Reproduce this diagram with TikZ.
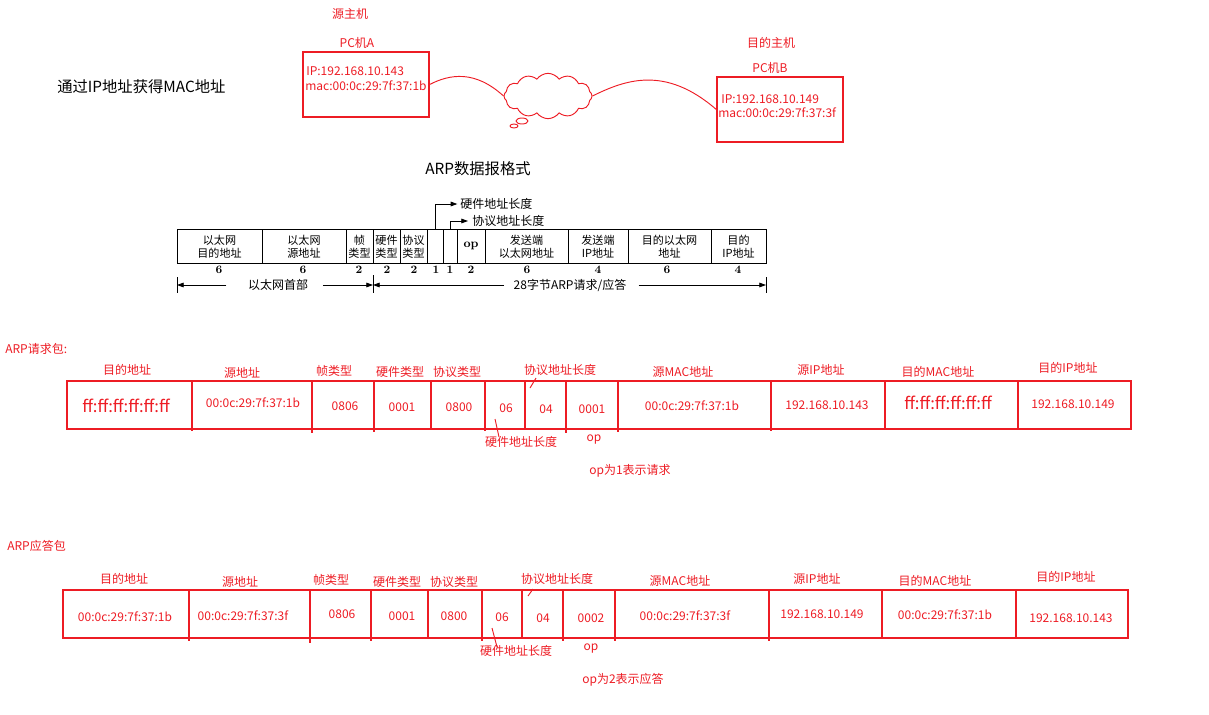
\documentclass[tikz,border=0pt]{standalone}
\usepackage{fontspec}
\usepackage{tikz}
\usetikzlibrary{positioning,arrows.meta,shapes.symbols}

\newfontfamily\cjk{Noto Sans CJK SC}
\definecolor{pen}{RGB}{237,28,36}

\tikzset{
  redlbl/.style={text=pen, font=\cjk\fontsize{9}{10}\selectfont, inner sep=0pt},
  bigval/.style={text=pen, font=\cjk\fontsize{12.5}{14}\selectfont, inner sep=0pt},
  redline/.style={draw=pen, line width=1pt},
  thinred/.style={draw=pen, line width=0.7pt},
  hostbox/.style={draw=pen, line width=1pt, minimum width=94.5pt, minimum height=48.75pt, inner sep=0pt},
  bookcell/.style={font=\cjk\fontsize{8.3}{9.6}\selectfont, align=center, inner sep=0pt},
  booknum/.style={font=\bfseries\fontsize{8.5}{9}\selectfont, inner sep=0pt},
  booklbl/.style={font=\cjk\fontsize{9}{10}\selectfont, inner sep=0pt},
  bookline/.style={draw, line width=0.6pt},
  bookarrow/.style={-{Triangle[length=5pt,width=3.5pt]}, line width=0.6pt},
  title/.style={font=\cjk\fontsize{11.5}{13}\selectfont, inner sep=0pt},
}

\begin{document}
\begin{tikzpicture}[x=0.75pt, y=-0.75pt]

\useasboundingbox (0,0) rectangle (1209,714);

% hosts and network
\node[title, anchor=west] (topic) at (57,87) {通过IP地址获得MAC地址};
\node[redlbl] (srcHost) at (350,14) {源主机};
\node[redlbl] (pcAname) at (357,43) {PC机A};
\node[redlbl] (dstHost) at (771,43) {目的主机};
\node[redlbl] (pcBname) at (770,68) {PC机B};

\node[hostbox] (pcA) at (366,84.5) {};
\node[hostbox] (pcB) at (780,109.5) {};
\node[redlbl, anchor=west] (ipA) at (306,71) {IP:192.168.10.143};
\node[redlbl, anchor=west] (macA) at (305,86) {mac:00:0c:29:7f:37:1b};
\node[redlbl, anchor=west] (ipB) at (721,99) {IP:192.168.10.149};
\node[redlbl, anchor=west] (macB) at (718,113) {mac:00:0c:29:7f:37:3f};

\node[cloud, cloud puffs=12, cloud puff arc=110, aspect=2, draw=pen, line width=0.7pt,
      minimum width=66pt, minimum height=34pt, inner sep=0pt] (net) at (548,96) {};
\path[thinred] (522,121) ellipse (6 and 3);
\path[thinred] (514,126) ellipse (4 and 2);

\draw[thinred] (pcA.east) .. controls (450,74) and (475,70) .. (net.west);
\draw[thinred] (net.east) .. controls (625,80) and (665,65) .. (pcB.west);

% ARP frame format (book figure)
\node[title] (fmt) at (478,169) {ARP数据报格式};

\path[bookline] (177,229) rectangle (766,263);
\foreach \x in {262,346,373,400,427,443,457,485,568,628,711}
    \path[bookline] (\x,229) -- (\x,263);

\foreach \c/\t [count=\i] in {219.5/{以太网\\目的地址}, 304/{以太网\\源地址}, 359.5/{帧\\类型},
        386.5/{硬件\\类型}, 413.5/{协议\\类型}, 526.5/{发送端\\以太网地址},
        598/{发送端\\IP地址}, 669.5/{目的以太网\\地址}, 738.5/{目的\\IP地址}}
    \node[bookcell] (cell\i) at (\c,246.5) {\t};
\node[booknum, font=\bfseries\fontsize{9}{9}\selectfont] (opcell) at (471,246) {op};

\foreach \c/\n [count=\i] in {219/6,303/6,359/2,387/2,414/2,436/1,450/1,471/2,527/6,598/4,667/6,738/4}
    \node[booknum] (len\i) at (\c,270) {\n};

\coordinate (hwTop) at (435,229);
\coordinate (prTop) at (450,229);
\node[booklbl, anchor=west] (hwLen) at (460,204) {硬件地址长度};
\node[booklbl, anchor=west] (prLen) at (472,221) {协议地址长度};
\draw[bookarrow] (hwTop) |- ([xshift=-2pt]hwLen.west);
\draw[bookarrow] (prTop) |- ([xshift=-3pt]prLen.west);

\coordinate (hdrL) at (177,285);
\coordinate (hdrR) at (373,285);
\coordinate (arpR) at (766,285);
\path[bookline] (177,277) -- (177,293);
\path[bookline] (373,275) -- (373,293);
\path[bookline] (766,277) -- (766,293);
\node[booklbl] (ethHdr) at (278,285) {以太网首部};
\node[booklbl] (arpBody) at (570,285) {28字节ARP请求/应答};
\draw[bookarrow] ([xshift=-16pt]ethHdr.west) -- (hdrL);
\draw[bookarrow] ([xshift=11pt]ethHdr.east) -- (hdrR);
\draw[bookarrow] ([xshift=-7pt]arpBody.west) -- (hdrR);
\draw[bookarrow] ([xshift=9pt]arpBody.east) -- (arpR);

% ARP request
\node[redlbl, anchor=west] (reqName) at (5,349) {ARP请求包:};
\path[redline] (67,381) rectangle (1131,429);
\foreach \x/\b in {192/431,312/433,374/432,431/429,485/431,525/429,566/433,618/432,771/431,885/429,1018/429}
    \path[redline] (\x,381) -- (\x,\b);

\foreach \x/\y/\t [count=\i] in {127/370/目的地址, 242/373/源地址, 334/371/帧类型, 400/372/硬件类型,
        457/372/协议类型, 560/370/协议地址长度, 683/372/源MAC地址, 821/370/源IP地址,
        938/372/目的MAC地址, 1068/368/目的IP地址}
    \node[redlbl] (reqf\i) at (\x,\y) {\t};
\foreach \x/\y/\t [count=\i] in {253/403/00:0c:29:7f:37:1b, 345/406/0806, 402/407/0001, 459/407/0800,
        506/408/06, 546/409/04, 592/409/0001, 692/406/00:0c:29:7f:37:1b, 827/405/192.168.10.143,
        1073/404/192.168.10.149}
    \node[redlbl] (reqv\i) at (\x,\y) {\t};
\node[bigval] (reqDst) at (126,406) {ff:ff:ff:ff:ff:ff};
\node[bigval] (reqTgt) at (948,403) {ff:ff:ff:ff:ff:ff};

\node[redlbl] (reqHw) at (521,442) {硬件地址长度};
\node[redlbl] (reqOp) at (594,440) {op};
\node[redlbl] (reqNote) at (630,471) {op为1表示请求};
\coordinate (reqPa) at (536,378);
\coordinate (reqPb) at (530,388);
\coordinate (reqHa) at (495,419);
\coordinate (reqHb) at (499,437);
\draw[thinred] (reqPa) -- (reqPb);
\draw[thinred] (reqHa) -- (reqHb);

% ARP reply
\node[redlbl, anchor=west] (repName) at (7,546) {ARP应答包};
\path[redline] (63,590) rectangle (1128,638);
\foreach \x/\b in {189/641,310/643,371/641,428/638,482/641,522/638,563/641,615/641,769/641,882/638,1016/638}
    \path[redline] (\x,590) -- (\x,\b);

\foreach \x/\y/\t [count=\i] in {124/579/目的地址, 240/582/源地址, 331/580/帧类型, 397/582/硬件类型,
        454/582/协议类型, 557/579/协议地址长度, 680/581/源MAC地址, 817/579/源IP地址,
        935/581/目的MAC地址, 1066/577/目的IP地址}
    \node[redlbl] (repf\i) at (\x,\y) {\t};
\foreach \x/\y/\t [count=\i] in {125/617/00:0c:29:7f:37:1b, 243/616/00:0c:29:7f:37:3f, 342/614/0806,
        402/616/0001, 454/616/0800, 502/617/06, 543/618/04, 591/618/0002,
        685/616/00:0c:29:7f:37:3f, 822/614/192.168.10.149, 945/615/00:0c:29:7f:37:1b,
        1071/618/192.168.10.143}
    \node[redlbl] (repv\i) at (\x,\y) {\t};

\node[redlbl] (repHw) at (516,651) {硬件地址长度};
\node[redlbl] (repOp) at (591,649) {op};
\node[redlbl] (repNote) at (623,680) {op为2表示应答};
\coordinate (repPa) at (533,589);
\coordinate (repPb) at (528,596);
\coordinate (repHa) at (492,628);
\coordinate (repHb) at (497,647);
\draw[thinred] (repPa) -- (repPb);
\draw[thinred] (repHa) -- (repHb);

\end{tikzpicture}
\end{document}
